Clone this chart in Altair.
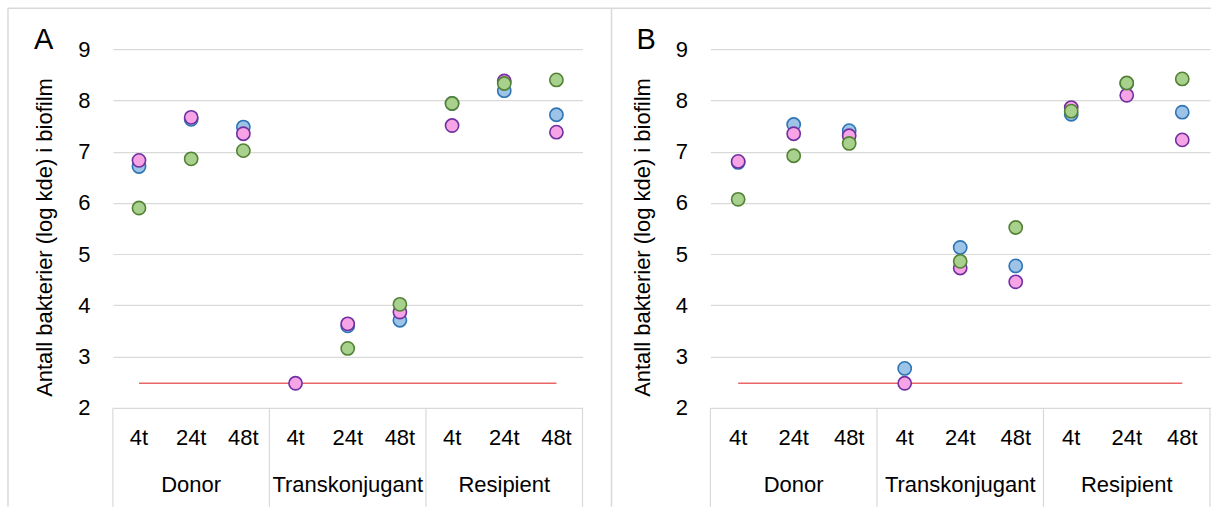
import altair as alt
import pandas as pd

# ---- data ----
groups = ["Donor", "Transkonjugant", "Resipient"]
times = ["4t", "24t", "48t"]
series = ["Serie 1", "Serie 2", "Serie 3"]
fills = ["#9DC3E6", "#F7A4E6", "#A9D18E"]
strokes = ["#2E75B6", "#7030A0", "#548235"]

a_blue = [6.71, 7.63, 7.48, None, 3.60, 3.71, 7.94, 8.19, 7.72]
a_pink = [6.83, 7.67, 7.35, 2.48, 3.64, 3.87, 7.51, 8.38, 7.38]
a_green = [5.90, 6.86, 7.02, None, 3.16, 4.02, 7.94, 8.33, 8.40]

b_blue = [6.79, 7.53, 7.41, 2.77, 5.13, 4.77, 7.73, 8.33, 7.77]
b_pink = [6.81, 7.35, 7.31, 2.48, 4.73, 4.46, 7.86, 8.10, 7.23]
b_green = [6.07, 6.92, 7.16, None, 4.86, 5.52, 7.79, 8.34, 8.42]

detection_limit = 2.48
y_ticks = [2, 3, 4, 5, 6, 7, 8, 9]
y_title = "Antall bakterier (log kde) i biofilm"

FONT = "Liberation Sans"
H = 359
GRID = "#D9D9D9"


def points_df(values_by_series):
    rows = []
    for s_i, (name, vals) in enumerate(zip(series, values_by_series)):
        for i, v in enumerate(vals):
            if v is None:
                continue
            rows.append({"idx": i, "verdi": v, "serie": name, "rekke": s_i,
                         "gruppe": groups[i // 3], "tid": times[i % 3]})
    return pd.DataFrame(rows)


n_cat = len(groups) * len(times)
cat_df = pd.DataFrame({"idx": list(range(n_cat)),
                       "tid": [times[i % 3] for i in range(n_cat)]})
grp_df = pd.DataFrame({"idx": [g * 3 + 1 for g in range(len(groups))],
                       "gruppe": groups})
sep_df = pd.DataFrame({"idx": [g * 3 - 0.5 for g in range(len(groups) + 1)]})
limit_df = pd.DataFrame({"idx": [0], "idx2": [n_cat - 1], "verdi": [detection_limit]})
one = pd.DataFrame({"a": [0]})


def panel(letter, vals, width, left_border, right_end, letter_x):
    xscale = alt.Scale(domain=[-0.5, n_cat - 0.5], nice=False, zero=False)
    yscale = alt.Scale(domain=[2, 9], nice=False, zero=False)

    pts = alt.Chart(points_df(vals)).mark_circle(
        size=175, strokeWidth=1.6, opacity=1
    ).encode(
        x=alt.X("idx:Q", scale=xscale, axis=None),
        y=alt.Y("verdi:Q", scale=yscale, axis=alt.Axis(
            values=y_ticks, grid=True, gridColor=GRID, gridWidth=1.2,
            domain=False, ticks=False, tickSize=0, labelPadding=23,
            labelFont=FONT, labelFontSize=22, labelColor="#000000",
            title=y_title, titleFont=FONT, titleFontSize=22,
            titleFontWeight="normal", titleColor="#000000",
            titleAngle=270, titleX=-68, titleY=188,
            titleAlign="center", titleBaseline="middle")),
        fill=alt.Fill("serie:N", scale=alt.Scale(domain=series, range=fills), legend=None),
        stroke=alt.Stroke("serie:N", scale=alt.Scale(domain=series, range=strokes), legend=None),
        order=alt.Order("rekke:Q"),
    )

    limit = alt.Chart(limit_df).mark_rule(color="#E86666", strokeWidth=1.6).encode(
        x=alt.X("idx:Q", scale=xscale, axis=None), x2="idx2:Q",
        y=alt.Y("verdi:Q", scale=yscale),
    )

    seps = alt.Chart(sep_df).mark_rule(color=GRID, strokeWidth=1.2).encode(
        x=alt.X("idx:Q", scale=xscale, axis=None),
        y=alt.value(H), y2=alt.value(H + 99),
    )

    tlabels = alt.Chart(cat_df).mark_text(
        font=FONT, fontSize=22, color="#000000", baseline="middle", align="center"
    ).encode(x=alt.X("idx:Q", scale=xscale, axis=None), y=alt.value(H + 30), text="tid:N")

    glabels = alt.Chart(grp_df).mark_text(
        font=FONT, fontSize=22, color="#000000", baseline="middle", align="center"
    ).encode(x=alt.X("idx:Q", scale=xscale, axis=None), y=alt.value(H + 77), text="gruppe:N")

    left = alt.Chart(one).mark_rule(color=GRID, strokeWidth=1.5).encode(
        x=alt.value(left_border), y=alt.value(-41), y2=alt.value(H + 99))
    top = alt.Chart(one).mark_rule(color=GRID, strokeWidth=1.5).encode(
        x=alt.value(left_border), x2=alt.value(right_end), y=alt.value(-41))

    lab = alt.Chart(one).mark_text(
        font=FONT, fontSize=29, color="#000000", align="left", baseline="alphabetic"
    ).encode(x=alt.value(letter_x), y=alt.value(0), text=alt.value(letter))

    return alt.layer(left, top, seps, limit, pts, tlabels, glabels, lab).properties(
        width=width, height=H)


pa = panel("A", [a_blue, a_pink, a_green], 470, -105, 499, -79)
pb = panel("B", [b_blue, b_pink, b_green], 500, -99, 501, -74)

chart = alt.hconcat(pa, pb, spacing=128, bounds="flush").properties(
    padding={"left": 7, "top": 7, "right": 0, "bottom": 0},
    background="white",
).configure_view(stroke=None)

chart.save("out.html", embed_options={"renderer": "svg", "actions": False})
